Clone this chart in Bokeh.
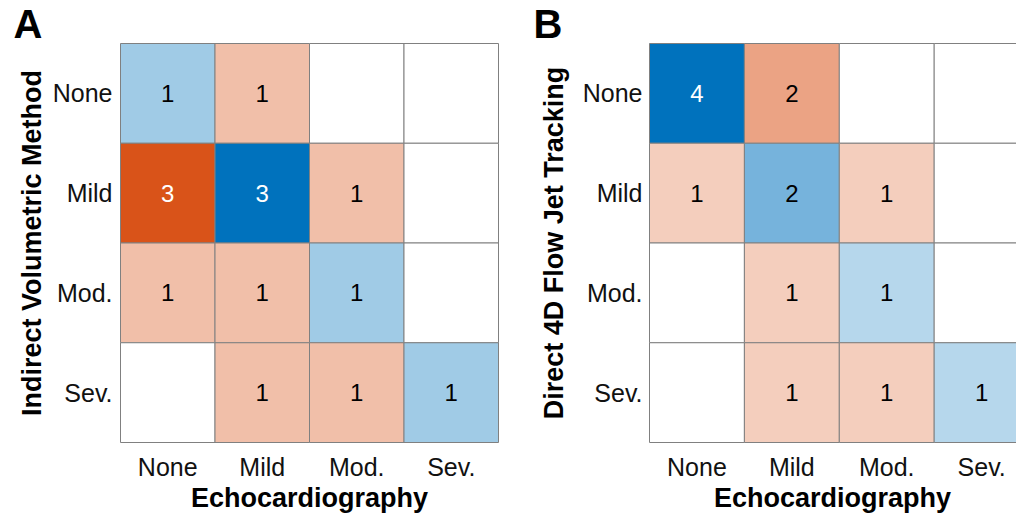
from bokeh.plotting import figure
from bokeh.models import Range1d, FixedTicker, ColumnDataSource, Title
from bokeh.layouts import row
from bokeh.embed import file_html
from bokeh.resources import INLINE
from bokeh.core.properties import value

# ---- data -------------------------------------------------------------
levels = ["None", "Mild", "Mod.", "Sev."]          # tick labels (both axes)
xlabel = "Echocardiography"
# rows = y category (None..Sev.), columns = Echocardiography (None..Sev.)
counts_a = [[1, 1, 0, 0],
            [3, 3, 1, 0],
            [1, 1, 1, 0],
            [0, 1, 1, 1]]
ylabel_a = "Indirect Volumetric Method"
counts_b = [[4, 2, 0, 0],
            [1, 2, 1, 0],
            [0, 1, 1, 0],
            [0, 1, 1, 1]]
ylabel_b = "Direct 4D Flow Jet Tracking"

# ---- style ------------------------------------------------------------
FONT = "Liberation Sans"
BLUE = (0, 114, 189)
ORANGE = (217, 83, 25)
GRID_COL = "#808080"
HEIGHT = 515


def blend(base, t):
    t = t ** 0.9
    r, g, b = (round(255 - (255 - c) * t) for c in base)
    return "#%02x%02x%02x" % (r, g, b)


def make_panel(counts, ylabel, letter, width, bl, br, cw, frame_w,
               ytick_standoff, ylab_standoff, letter_offset):
    ch = 99.75
    frame_h = 401
    pad_x = 1.0 / cw
    pad_y = 1.0 / ch
    x_end = -pad_x + frame_w / cw
    y_start = -pad_y + frame_h / ch
    bt = 42
    bb = HEIGHT - bt - frame_h
    p = figure(width=width, height=HEIGHT, output_backend="svg", toolbar_location=None,
               x_range=Range1d(-pad_x, x_end), y_range=Range1d(y_start, -pad_y),
               min_border_left=bl, min_border_right=br, min_border_top=bt,
               min_border_bottom=bb)
    p.outline_line_color = None
    p.xgrid.grid_line_color = None
    p.ygrid.grid_line_color = None
    p.background_fill_color = "white"
    p.border_fill_color = "white"
    p.title = Title(text=letter, text_font=FONT, text_font_size="40px",
                    text_font_style="bold", text_color="black", align="left",
                    offset=letter_offset, standoff=-7)

    vmax = max(max(r) for r in counts)
    xs, ys, fills, txt, tcol, tx, ty = [], [], [], [], [], [], []
    for i, rowvals in enumerate(counts):
        for j, v in enumerate(rowvals):
            xs.append(j + 0.5)
            ys.append(i + 0.5)
            if v == 0:
                fills.append("white")
            else:
                base = BLUE if i == j else ORANGE
                fills.append(blend(base, v / vmax))
                txt.append(str(v))
                tcol.append("white" if v / vmax > 0.7 else "black")
                tx.append(j + 0.5)
                ty.append(i + 0.5)
    src = ColumnDataSource(dict(x=xs, y=ys, fill=fills))
    p.rect(x="x", y="y", width=1, height=1, source=src, fill_color="fill",
           line_color=GRID_COL, line_width=1)
    tsrc = ColumnDataSource(dict(x=tx, y=ty, t=txt, c=tcol))
    p.text(x="x", y="y", text="t", source=tsrc, text_color="c", text_align="center",
           text_baseline="middle", text_font=value(FONT), text_font_size="24px")

    ticks = [0.5, 1.5, 2.5, 3.5]
    overrides = {t: lab for t, lab in zip(ticks, levels)}
    for ax in (p.xaxis[0], p.yaxis[0]):
        ax.ticker = FixedTicker(ticks=ticks)
        ax.major_label_overrides = overrides
        ax.axis_line_color = None
        ax.major_tick_line_color = None
        ax.major_tick_out = 0
        ax.major_tick_in = 0
        ax.minor_tick_line_color = None
        ax.minor_tick_out = 0
        ax.major_label_text_font = FONT
        ax.major_label_text_font_size = "25px"
        ax.major_label_text_color = "#111111"
        ax.axis_label_text_font = FONT
        ax.axis_label_text_font_size = "27px"
        ax.axis_label_text_font_style = "bold"
        ax.axis_label_text_color = "black"
    p.xaxis[0].axis_label = xlabel
    p.xaxis[0].major_label_standoff = 9
    p.xaxis[0].axis_label_standoff = -1
    p.yaxis[0].axis_label = ylabel
    p.yaxis[0].major_label_standoff = ytick_standoff
    p.yaxis[0].axis_label_standoff = ylab_standoff
    return p


pa = make_panel(counts_a, ylabel_a, "A", width=518, bl=119, br=19, cw=94.5,
                frame_w=380, ytick_standoff=7, ylab_standoff=3, letter_offset=-106)
pb = make_panel(counts_b, ylabel_b, "B", width=498, bl=130, br=0, cw=94.9,
                frame_w=368, ytick_standoff=6, ylab_standoff=11, letter_offset=-115)

layout = row(pa, pb)
open("out.html", "w").write(file_html(layout, INLINE))
